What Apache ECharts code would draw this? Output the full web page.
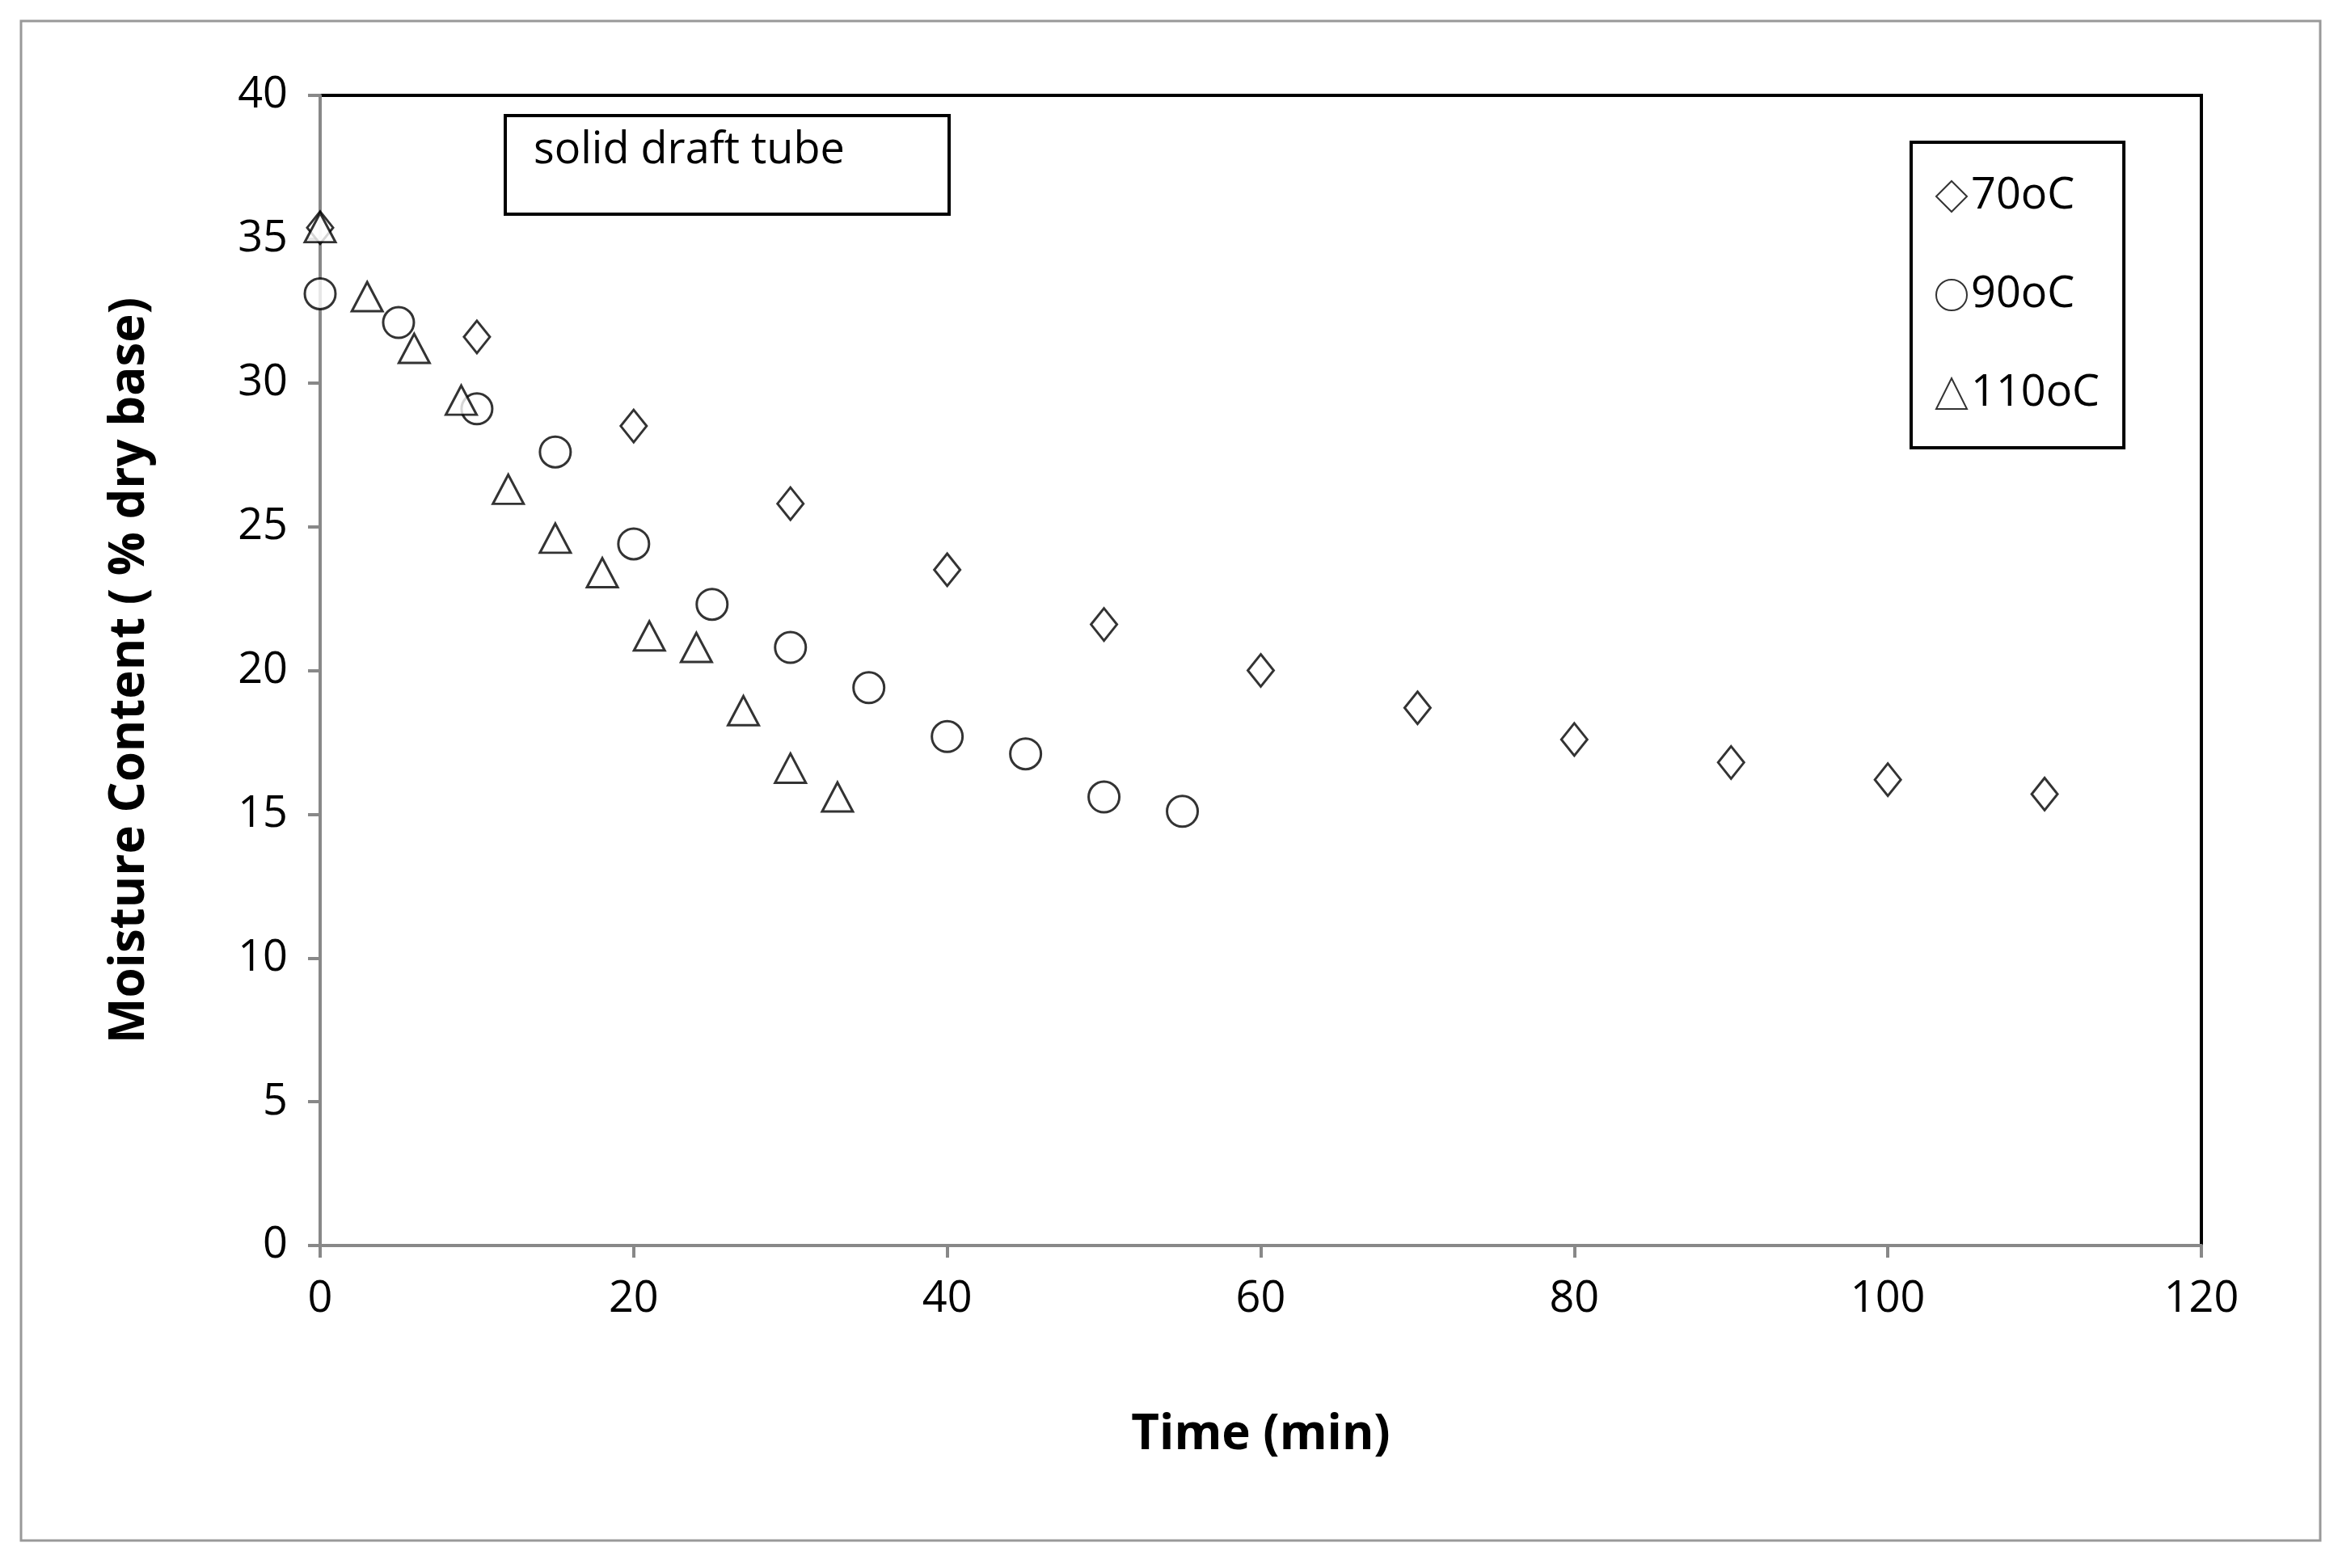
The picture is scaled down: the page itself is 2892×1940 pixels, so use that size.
<!DOCTYPE html>
<html><head><meta charset="utf-8">
<script src="https://cdn.jsdelivr.net/npm/echarts@6/dist/echarts.min.js"></script>
<style>html,body{margin:0;background:#fff}#c{width:2892px;height:1940px}</style></head>
<body><div id="c"></div>
<script>
const t70 = [0,10,20,30,40,50,60,70,80,90,100,110];
const m70 = [35.4,31.6,28.5,25.8,23.5,21.6,20.0,18.7,17.6,16.8,16.2,15.7];
const t90 = [0,5,10,15,20,25,30,35,40,45,50,55];
const m90 = [33.1,32.1,29.1,27.6,24.4,22.3,20.8,19.4,17.7,17.1,15.6,15.1];
const t110 = [0,3,6,9,12,15,18,21,24,27,30,33];
const m110 = [35.4,33.0,31.2,29.4,26.3,24.6,23.4,21.2,20.8,18.6,16.6,15.6];
const xTicks = [0,20,40,60,80,100,120];
const yTicks = [0,5,10,15,20,25,30,35,40];
const F = "'Open Sans', 'Liberation Sans', sans-serif";
const zip = (a,b)=>a.map((v,i)=>[v,b[i]]);
const mk = {color:'#fff',borderColor:'#000',borderWidth:3};
const chart = echarts.init(document.getElementById('c'));
chart.setOption({
  animation:false,
  backgroundColor:'#fff',
  grid:{left:396,top:118,width:2327,height:1423,show:true,borderColor:'#000',borderWidth:4,backgroundColor:'transparent'},
  xAxis:{type:'value',min:0,max:120,interval:20,
    name:'Time (min)',nameLocation:'middle',nameGap:205,
    nameTextStyle:{fontFamily:F,fontSize:60,fontWeight:'bold',color:'#000'},
    axisLine:{show:true,lineStyle:{color:'#888',width:4}},
    axisTick:{show:true,length:15,lineStyle:{color:'#888',width:4}},
    splitLine:{show:false},
    axisLabel:{fontFamily:F,fontSize:54,color:'#000',margin:40,formatter:v=>xTicks.includes(v)?String(v):''}},
  yAxis:{type:'value',min:0,max:40,interval:5,
    name:'Moisture Content ( % dry base)',nameLocation:'middle',nameGap:205,
    nameTextStyle:{fontFamily:F,fontSize:60,fontWeight:'bold',color:'#000'},
    axisLine:{show:true,lineStyle:{color:'#888',width:4}},
    axisTick:{show:true,length:15,lineStyle:{color:'#888',width:4}},
    splitLine:{show:false},
    axisLabel:{fontFamily:F,fontSize:54,color:'#000',margin:40,formatter:v=>yTicks.includes(v)?String(v):''}},
  legend:{orient:'vertical',left:2364,top:176,width:308,height:388,
    padding:[40,30,40,30],itemGap:68,itemWidth:38,itemHeight:38,
    borderColor:'#000',borderWidth:4,backgroundColor:'#fff',
    textStyle:{fontFamily:F,fontSize:54,color:'#000'},
    data:['70oC','90oC','110oC']},
  graphic:[
    {type:'rect',shape:{x:26,y:26,width:2844,height:1880},style:{fill:'none',stroke:'#999',lineWidth:3},z:-1},
    {type:'rect',shape:{x:625,y:143,width:549,height:122},style:{fill:'#fff',stroke:'#000',lineWidth:4},z:10},
    {type:'text',left:660,top:160,style:{text:'solid draft tube',font:"54px 'Open Sans', sans-serif",fill:'#000'},z:11}
  ],
  series:[
    {name:'70oC',type:'scatter',symbol:'diamond',symbolSize:[32,40],itemStyle:mk,data:zip(t70,m70)},
    {name:'90oC',type:'scatter',symbol:'circle',symbolSize:38,itemStyle:mk,data:zip(t90,m90)},
    {name:'110oC',type:'scatter',symbol:'triangle',symbolSize:[38,36],itemStyle:mk,data:zip(t110,m110)}
  ]
});
</script></body></html>
